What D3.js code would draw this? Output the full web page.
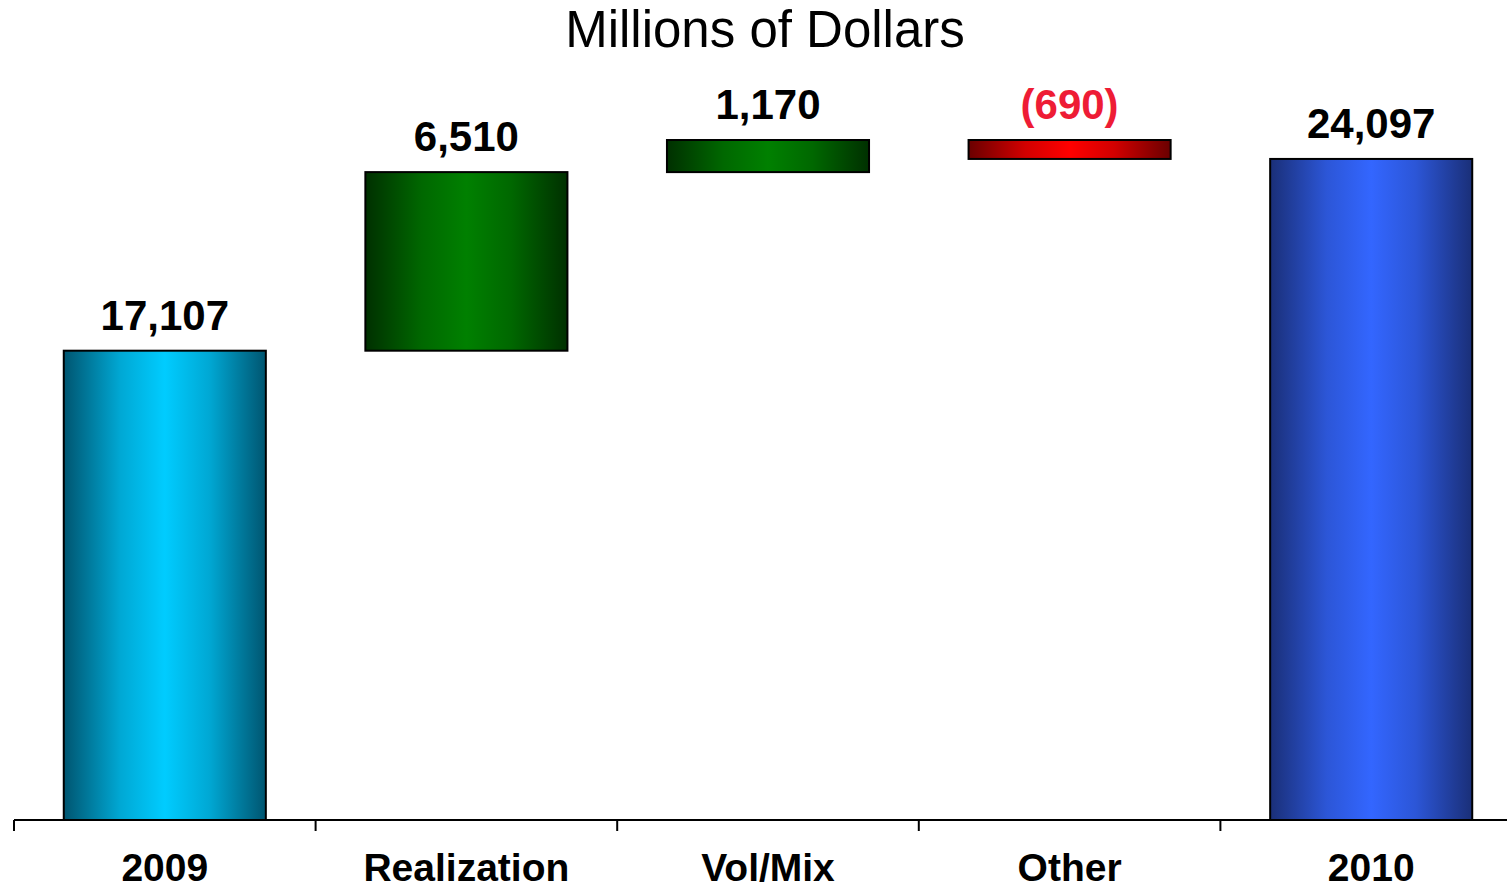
<!DOCTYPE html>
<html>
<head>
<meta charset="utf-8">
<script src="https://cdn.jsdelivr.net/npm/d3@7"></script>
<style>
  html, body { margin: 0; padding: 0; background: #fff; }
  svg { display: block; }
</style>
</head>
<body>
<svg id="chart" width="1507" height="891"></svg>
<script>
// Bridge from 2009 to 2010, millions of dollars
const categories = ["2009", "Realization", "Vol/Mix", "Other", "2010"];
const values = [17107, 6510, 1170, -690, 24097];
const kinds = ["total", "delta", "delta", "delta", "total"];
const fills = ["cyan", "green", "green", "red", "blue"];

const svg = d3.select("#chart");
const W = 1507, H = 891;

// Horizontal gradients: dark edges, bright centre
const gradients = {
  cyan:  ["#005570", "#00ccff"],
  green: ["#003000", "#008000"],
  red:   ["#6a0000", "#ff0000"],
  blue:  ["#1a2f78", "#3366ff"]
};
const defs = svg.append("defs");
Object.entries(gradients).forEach(([name, [edge, mid]]) => {
  const g = defs.append("linearGradient").attr("id", "g-" + name)
    .attr("x1", "0%").attr("x2", "100%").attr("y1", "0%").attr("y2", "0%");
  const blend = d3.interpolateRgb(edge, mid)(0.7);
  g.append("stop").attr("offset", "0%").attr("stop-color", edge);
  g.append("stop").attr("offset", "28%").attr("stop-color", blend);
  g.append("stop").attr("offset", "50%").attr("stop-color", mid);
  g.append("stop").attr("offset", "72%").attr("stop-color", blend);
  g.append("stop").attr("offset", "100%").attr("stop-color", edge);
});

// Running totals for the floating bars
let run = 0;
const bars = categories.map((c, i) => {
  let lo, hi;
  if (kinds[i] === "total") { lo = 0; hi = values[i]; run = values[i]; }
  else { const s = run; run += values[i]; lo = Math.min(s, run); hi = Math.max(s, run); }
  return { cat: c, value: values[i], lo, hi, fill: fills[i] };
});

const x = d3.scaleBand().domain(categories).range([14, 1522])
  .paddingInner(0.33).paddingOuter(0.165);
const y = d3.scaleLinear().domain([0, 30000]).range([820, -3]);

const fmt = v => v < 0 ? "(" + d3.format(",")(-v) + ")" : d3.format(",")(v);

// Title
svg.append("text")
  .attr("x", 765).attr("y", 47)
  .attr("text-anchor", "middle")
  .attr("font-family", "Liberation Sans, Arial, sans-serif")
  .attr("font-size", 51)
  .attr("fill", "#000")
  .text("Millions of Dollars");

// Bars
svg.append("g").selectAll("rect").data(bars).join("rect")
  .attr("x", d => x(d.cat))
  .attr("width", x.bandwidth())
  .attr("y", d => y(d.hi))
  .attr("height", d => y(d.lo) - y(d.hi))
  .attr("fill", d => "url(#g-" + d.fill + ")")
  .attr("stroke", "#000")
  .attr("stroke-width", 2);

// Value labels
svg.append("g").selectAll("text").data(bars).join("text")
  .attr("x", d => x(d.cat) + x.bandwidth() / 2)
  .attr("y", d => y(d.hi) - 21)
  .attr("text-anchor", "middle")
  .attr("font-family", "Liberation Sans, Arial, sans-serif")
  .attr("font-weight", "bold")
  .attr("font-size", 42)
  .attr("fill", d => d.value < 0 ? "#ee1c35" : "#000")
  .text(d => fmt(d.value));

// Category axis: baseline, ticks between categories, labels
const axis = svg.append("g");
axis.append("line")
  .attr("x1", 14).attr("x2", W)
  .attr("y1", y(0)).attr("y2", y(0))
  .attr("stroke", "#000").attr("stroke-width", 2);
const tickX = d3.range(categories.length + 1).map(i => x.range()[0] + i * x.step());
axis.selectAll(".tick").data(tickX).join("line")
  .attr("class", "tick")
  .attr("x1", d => d).attr("x2", d => d)
  .attr("y1", y(0)).attr("y2", y(0) + 11)
  .attr("stroke", "#000").attr("stroke-width", 2);
axis.selectAll(".cat").data(categories).join("text")
  .attr("class", "cat")
  .attr("x", d => x(d) + x.bandwidth() / 2)
  .attr("y", 881)
  .attr("text-anchor", "middle")
  .attr("font-family", "Liberation Sans, Arial, sans-serif")
  .attr("font-weight", "bold")
  .attr("font-size", 39)
  .attr("fill", "#000")
  .text(d => d);
</script>
</body>
</html>
